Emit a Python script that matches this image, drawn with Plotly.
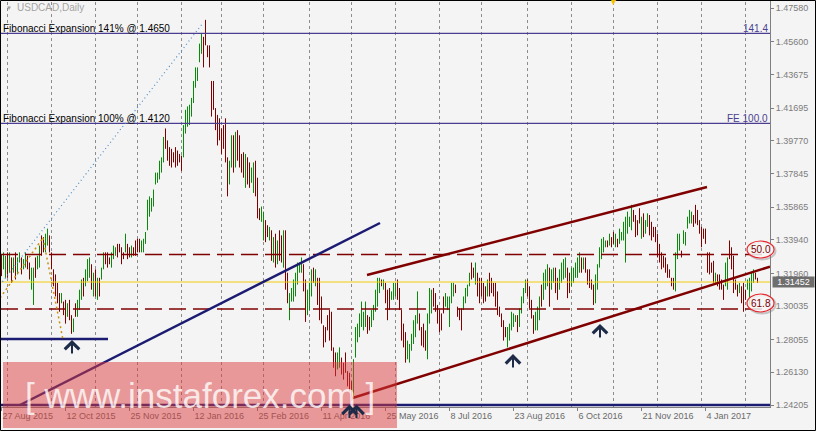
import plotly.graph_objects as go

# ---------------- data ----------------
# bar direction per day: G = up (green), R = down (red)
directions = (
    "RGGRGRGRGG" "RGGRRGGRGG" "RRGGRRRRRR" "GRRGRRGRGG" "GRGGGRGRGR"
    "GGRRRGGGRR" "RRGRRGRRRR" "GGGGGGGGGG" "GGRRRRRRRR" "RGGGGGGGGG"
    "GRRRRRRRRR" "RRRRGGRGRR" "RRGRRGGRRR" "GGRRGRGRGR" "RGRRGGGGGG"
    "GRRGGGRGRR" "RRRRRRRRGG" "RRRRRRGGGG" "GGGRRGGGGG" "RGRRRGGGRR"
    "RRRGGGGGGR" "RRRGGGRRRR" "RRGGGGGRRR" "RGGGGRRGRR" "RRRGRRRRRR"
    "RRRGGGGGRG" "GGGRRRRGGG" "RGGGRGGRRG" "GGGRRGGGGG" "RGRRRRRGGG"
    "GGGRGRRGRG" "GGGGGGRRRR" "GRGGRRRRRR" "RRRRRRRGGG" "RGGGGGRRRR"
    "RRRRRRRGRR" "RRGGRRRRRG" "RRRGGGGRR"
)

highs = [
    1.331, 1.332, 1.330, 1.332, 1.332, 1.329, 1.329, 1.332, 1.329, 1.332,
    1.329, 1.328, 1.332, 1.330, 1.326, 1.323, 1.323, 1.329, 1.330, 1.336,
    1.342, 1.341, 1.343, 1.346, 1.342, 1.332, 1.322, 1.319, 1.314, 1.308,
    1.308, 1.303, 1.304, 1.302, 1.304, 1.295, 1.293, 1.302, 1.304, 1.310,
    1.316, 1.317, 1.322, 1.328, 1.329, 1.325, 1.320, 1.322, 1.317, 1.317,
    1.323, 1.332, 1.332, 1.332, 1.329, 1.332, 1.336, 1.335, 1.337, 1.337,
    1.335, 1.332, 1.343, 1.337, 1.335, 1.336, 1.335, 1.339, 1.340, 1.340,
    1.339, 1.340, 1.344, 1.363, 1.365, 1.364, 1.369, 1.379, 1.379, 1.386,
    1.388, 1.400, 1.405, 1.398, 1.394, 1.393, 1.391, 1.394, 1.392, 1.390,
    1.389, 1.407, 1.416, 1.418, 1.419, 1.423, 1.433, 1.441, 1.441, 1.455,
    1.461, 1.459, 1.469, 1.454, 1.454, 1.433, 1.433, 1.417, 1.413, 1.411,
    1.405, 1.407, 1.411, 1.388, 1.386, 1.401, 1.401, 1.403, 1.404, 1.401,
    1.390, 1.391, 1.390, 1.388, 1.385, 1.382, 1.385, 1.386, 1.376, 1.358,
    1.359, 1.356, 1.351, 1.348, 1.347, 1.345, 1.341, 1.343, 1.339, 1.345,
    1.342, 1.345, 1.345, 1.320, 1.308, 1.311, 1.316, 1.320, 1.326, 1.326,
    1.329, 1.325, 1.316, 1.310, 1.314, 1.322, 1.323, 1.322, 1.317, 1.317,
    1.306, 1.289, 1.288, 1.295, 1.298, 1.297, 1.276, 1.273, 1.273, 1.276,
    1.270, 1.267, 1.273, 1.262, 1.261, 1.256, 1.269, 1.288, 1.290, 1.296,
    1.303, 1.297, 1.303, 1.295, 1.294, 1.298, 1.301, 1.310, 1.317, 1.317,
    1.316, 1.316, 1.314, 1.310, 1.311, 1.309, 1.314, 1.314, 1.316, 1.311,
    1.298, 1.290, 1.285, 1.280, 1.278, 1.284, 1.292, 1.295, 1.309, 1.296,
    1.288, 1.290, 1.286, 1.296, 1.311, 1.310, 1.311, 1.308, 1.301, 1.298,
    1.296, 1.306, 1.308, 1.306, 1.306, 1.314, 1.314, 1.313, 1.300, 1.299,
    1.299, 1.306, 1.311, 1.313, 1.320, 1.326, 1.323, 1.326, 1.320, 1.317,
    1.317, 1.314, 1.312, 1.316, 1.320, 1.317, 1.314, 1.314, 1.309, 1.300,
    1.296, 1.292, 1.288, 1.288, 1.290, 1.297, 1.296, 1.295, 1.295, 1.299,
    1.306, 1.311, 1.316, 1.316, 1.312, 1.304, 1.295, 1.297, 1.300, 1.306,
    1.313, 1.320, 1.322, 1.325, 1.323, 1.322, 1.323, 1.323, 1.317, 1.322,
    1.326, 1.328, 1.329, 1.323, 1.320, 1.323, 1.323, 1.326, 1.329, 1.332,
    1.329, 1.329, 1.329, 1.322, 1.322, 1.316, 1.313, 1.319, 1.325, 1.335,
    1.340, 1.341, 1.339, 1.339, 1.343, 1.341, 1.344, 1.343, 1.340, 1.346,
    1.344, 1.350, 1.353, 1.356, 1.353, 1.360, 1.357, 1.354, 1.351, 1.358,
    1.353, 1.355, 1.351, 1.355, 1.354, 1.350, 1.347, 1.347, 1.343, 1.337,
    1.332, 1.330, 1.329, 1.325, 1.322, 1.317, 1.317, 1.332, 1.343, 1.343,
    1.333, 1.345, 1.344, 1.353, 1.357, 1.356, 1.354, 1.360, 1.357, 1.351,
    1.347, 1.346, 1.346, 1.332, 1.332, 1.326, 1.327, 1.320, 1.319, 1.319,
    1.316, 1.313, 1.326, 1.329, 1.339, 1.335, 1.330, 1.316, 1.313, 1.314,
    1.312, 1.314, 1.310, 1.316, 1.317, 1.320, 1.322, 1.320, 1.317,
]

lows = [
    1.318, 1.322, 1.317, 1.317, 1.320, 1.314, 1.320, 1.316, 1.319, 1.326,
    1.319, 1.322, 1.323, 1.322, 1.316, 1.310, 1.301, 1.317, 1.322, 1.323,
    1.330, 1.332, 1.332, 1.336, 1.332, 1.322, 1.312, 1.306, 1.302, 1.297,
    1.302, 1.295, 1.290, 1.294, 1.292, 1.284, 1.285, 1.294, 1.294, 1.298,
    1.304, 1.306, 1.312, 1.315, 1.317, 1.310, 1.306, 1.306, 1.304, 1.306,
    1.316, 1.322, 1.325, 1.323, 1.325, 1.323, 1.328, 1.330, 1.329, 1.332,
    1.325, 1.328, 1.332, 1.328, 1.329, 1.329, 1.330, 1.330, 1.332, 1.332,
    1.332, 1.332, 1.337, 1.345, 1.353, 1.356, 1.359, 1.372, 1.373, 1.375,
    1.379, 1.385, 1.393, 1.386, 1.383, 1.382, 1.385, 1.382, 1.383, 1.385,
    1.380, 1.388, 1.402, 1.406, 1.407, 1.412, 1.420, 1.429, 1.433, 1.444,
    1.449, 1.441, 1.454, 1.447, 1.441, 1.412, 1.416, 1.404, 1.395, 1.398,
    1.390, 1.393, 1.385, 1.365, 1.372, 1.382, 1.379, 1.382, 1.386, 1.382,
    1.379, 1.376, 1.370, 1.372, 1.370, 1.373, 1.367, 1.365, 1.352, 1.351,
    1.350, 1.339, 1.338, 1.341, 1.339, 1.327, 1.326, 1.323, 1.325, 1.327,
    1.326, 1.323, 1.310, 1.302, 1.292, 1.303, 1.303, 1.306, 1.313, 1.320,
    1.320, 1.309, 1.291, 1.295, 1.298, 1.306, 1.314, 1.312, 1.301, 1.292,
    1.290, 1.276, 1.279, 1.286, 1.280, 1.274, 1.264, 1.259, 1.263, 1.264,
    1.260, 1.257, 1.261, 1.253, 1.250, 1.247, 1.247, 1.270, 1.279, 1.282,
    1.288, 1.286, 1.288, 1.284, 1.286, 1.288, 1.292, 1.297, 1.300, 1.308,
    1.312, 1.310, 1.302, 1.292, 1.298, 1.304, 1.304, 1.306, 1.304, 1.298,
    1.280, 1.276, 1.267, 1.269, 1.267, 1.274, 1.278, 1.282, 1.290, 1.286,
    1.277, 1.276, 1.274, 1.269, 1.290, 1.296, 1.300, 1.297, 1.290, 1.285,
    1.286, 1.296, 1.300, 1.298, 1.288, 1.302, 1.306, 1.308, 1.294, 1.292,
    1.286, 1.298, 1.302, 1.306, 1.312, 1.316, 1.317, 1.313, 1.306, 1.302,
    1.306, 1.302, 1.303, 1.306, 1.306, 1.308, 1.306, 1.300, 1.295, 1.294,
    1.288, 1.280, 1.282, 1.276, 1.280, 1.286, 1.288, 1.291, 1.285, 1.288,
    1.296, 1.302, 1.308, 1.306, 1.299, 1.293, 1.284, 1.286, 1.286, 1.292,
    1.300, 1.304, 1.310, 1.312, 1.300, 1.310, 1.314, 1.308, 1.304, 1.310,
    1.314, 1.316, 1.317, 1.305, 1.308, 1.312, 1.314, 1.317, 1.317, 1.320,
    1.320, 1.322, 1.320, 1.313, 1.311, 1.310, 1.301, 1.302, 1.310, 1.323,
    1.328, 1.332, 1.335, 1.335, 1.336, 1.335, 1.337, 1.335, 1.335, 1.337,
    1.339, 1.339, 1.326, 1.343, 1.347, 1.345, 1.350, 1.341, 1.342, 1.349,
    1.340, 1.341, 1.343, 1.347, 1.342, 1.339, 1.341, 1.338, 1.329, 1.326,
    1.322, 1.323, 1.320, 1.317, 1.317, 1.312, 1.310, 1.309, 1.328, 1.333,
    1.329, 1.337, 1.336, 1.346, 1.349, 1.349, 1.347, 1.349, 1.348, 1.343,
    1.335, 1.340, 1.337, 1.320, 1.319, 1.320, 1.314, 1.314, 1.312, 1.310,
    1.310, 1.304, 1.312, 1.310, 1.328, 1.322, 1.308, 1.310, 1.306, 1.308,
    1.302, 1.297, 1.304, 1.310, 1.301, 1.309, 1.314, 1.316, 1.314,
]

date_labels = ["27 Aug 2015", "12 Oct 2015", "25 Nov 2015", "12 Jan 2016",
               "25 Feb 2016", "11 Apr 2016", "25 May 2016", "8 Jul 2016",
               "23 Aug 2016", "6 Oct 2016", "21 Nov 2016", "4 Jan 2017"]
bars_per_label = 32
month_start_bars = [3, 25, 47, 68, 90, 110, 131, 154, 175, 197, 219, 240,
                    263, 285, 306, 328, 350, 372]

price_ticks = [1.47580, 1.45600, 1.43675, 1.41695, 1.39770, 1.37845, 1.35865,
               1.33940, 1.31960, 1.30035, 1.28055, 1.26130, 1.24205]
current_price = 1.31452

fib141_level, fib100_level = 1.4611, 1.4080
retr50_level, retr618_level = 1.3308, 1.2986
base_level = 1.24205
support_level = 1.2809

# trend lines: (bar index, price) end points
navy_trend = [(9.25, 1.24205), (189.25, 1.3493)]
channel_upper = [(182.75, 1.3187), (352.75, 1.3705)]
channel_lower = [(175.1, 1.2460), (384.25, 1.3236)]
fib_dotted = [(-0.75, 1.3128), (100.75, 1.4672)]
abc_dotted = [(-0.75, 1.3051), (20.75, 1.3405), (30.75, 1.2804)]
support_span = (-0.75, 53.25)
arrow_points = [(35.25, 1.2804), (255.75, 1.2721), (299.25, 1.2898),
                (174.0, 1.2423), (177.5, 1.2423)]

# ---------------- geometry ----------------
W, H = 816, 431
ML, MR, MT, MB = 1, 46, 1, 24
PW, PH = W - ML - MR, H - MT - MB
Y_MAX = 1.48012
Y_MIN = 1.24087
X_MIN, X_MAX = -0.25, 384.25

def pxx(px):
    return (px - ML) / PW

def pxy(py):
    return 1 - (py - MT) / PH

FONT = "Liberation Sans, Arial, sans-serif"
MAROON = "#800000"
GREEN = "#0a8a0a"
NAVY = "#1b1b72"
FIBCOL = "#4b3d8f"

# ---------------- bars ----------------
ux, uy, dx, dy = [], [], [], []
for i, (h, l, d) in enumerate(zip(highs, lows, directions)):
    if d == "G":
        ux += [i, i, None]; uy += [l, h, None]
    else:
        dx += [i, i, None]; dy += [l, h, None]

fig = go.Figure()
fig.add_trace(go.Scatter(x=ux, y=uy, mode="lines",
                         line=dict(color=GREEN, width=1), hoverinfo="skip"))
fig.add_trace(go.Scatter(x=dx, y=dy, mode="lines",
                         line=dict(color=MAROON, width=1), hoverinfo="skip"))

shapes = []
# vertical dashed grid
for b in month_start_bars:
    shapes.append(dict(type="line", xref="x", yref="paper", x0=b, x1=b, y0=0, y1=1,
                       line=dict(color="#8c8c8c", width=1, dash="3px,3px"), layer="below"))

def hline(level, color, width, dash="solid", x0=0, x1=1, xref="paper"):
    shapes.append(dict(type="line", xref=xref, yref="y", x0=x0, x1=x1, y0=level, y1=level,
                       line=dict(color=color, width=width, dash=dash), layer="above"))

hline(fib141_level, FIBCOL, 1.2)
hline(fib100_level, FIBCOL, 1.2)
hline(retr50_level, MAROON, 1.5, "17px,7px")
hline(retr618_level, MAROON, 1.5, "17px,7px")
hline(current_price, "#f2cc0c", 1)
hline(base_level, NAVY, 2.5)
hline(support_level, NAVY, 2.5, x0=support_span[0], x1=support_span[1], xref="x")

def seg(points, color, width, dash="solid"):
    for (a, b) in zip(points[:-1], points[1:]):
        shapes.append(dict(type="line", xref="x", yref="y", x0=a[0], y0=a[1], x1=b[0], y1=b[1],
                           line=dict(color=color, width=width, dash=dash), layer="above"))

seg(fib_dotted, "#4f8fc8", 1.2, "1px,3px")
seg(abc_dotted, "#c8900c", 1.5, "2px,3px")
seg(navy_trend, NAVY, 2.5)
seg(channel_upper, MAROON, 2.5)
seg(channel_lower, MAROON, 2.5)

# labelled ellipses
for (x0, x1, y0, y1) in [(747, 774, 241, 258), (747, 774, 294, 312)]:
    shapes.append(dict(type="circle", xref="paper", yref="paper",
                       x0=pxx(x0 + 1.5), x1=pxx(x1 + 1.5), y0=pxy(y1 + 1.5), y1=pxy(y0 + 1.5),
                       line=dict(color="rgba(110,110,110,0.35)", width=2), layer="above"))
    shapes.append(dict(type="circle", xref="paper", yref="paper",
                       x0=pxx(x0), x1=pxx(x1), y0=pxy(y1), y1=pxy(y0),
                       fillcolor="rgba(246,246,246,0.85)",
                       line=dict(color="#e8262e", width=1.2), layer="above"))

# watermark band
shapes.append(dict(type="rect", xref="paper", yref="paper",
                   x0=pxx(3), x1=pxx(397), y0=pxy(428), y1=pxy(362),
                   fillcolor="rgba(220,60,60,0.5)", line=dict(width=0), layer="above"))
# outer black border
shapes.append(dict(type="rect", xref="paper", yref="paper",
                   x0=pxx(0.5), x1=pxx(815.5), y0=pxy(430.5), y1=pxy(0.5),
                   line=dict(color="#000000", width=1), fillcolor="rgba(0,0,0,0)", layer="above"))

annotations = []
def text(x, y, s, size=10, color="#000", xanchor="left", yanchor="middle", xref="paper", yref="paper", **kw):
    annotations.append(dict(x=x, y=y, xref=xref, yref=yref, text=s, showarrow=False,
                            xanchor=xanchor, yanchor=yanchor,
                            font=dict(family=FONT, size=size, color=color), **kw))

text(pxx(4), pxy(7.5), "▼", size=6, color="#9a9a9a")
text(pxx(15), pxy(7.5), "USDCAD,Daily", size=10, color="#a4a4a4")
text(pxx(1), fib141_level, "Fibonacci Expansion 141% @ 1.4650", yanchor="bottom", yref="y", yshift=-3)
text(pxx(1), fib100_level, "Fibonacci Expansion 100% @ 1.4120", yanchor="bottom", yref="y", yshift=-3)
text(pxx(770), fib141_level, "141.4", color=FIBCOL, xanchor="right", yanchor="bottom", yref="y", yshift=-3)
text(pxx(770), fib100_level, "FE 100.0", color=FIBCOL, xanchor="right", yanchor="bottom", yref="y", yshift=-3)
text(pxx(760.5), pxy(249), "50.0", size=10, color="#7a0000", xanchor="center")
text(pxx(760.5), pxy(303), "61.8", size=10, color="#7a0000", xanchor="center")
text(1, current_price, "1.31452", size=9, color="#ffffff", xanchor="left", yref="y",
     xshift=2, bgcolor="#6e6e6e", width=41, height=10, borderpad=0)
text(pxx(23), pxy(395), "[ www.instaforex.com ]", size=35, color="rgba(255,255,255,0.78)")
text(306, pxy(1.5), "▼", size=9, color="#f2c200", xanchor="center", xref="x")

for (bx, py) in arrow_points:
    annotations.append(dict(x=bx, y=py, xref="x", yref="y", text="", showarrow=True,
                            arrowhead=4, arrowsize=1.4, arrowwidth=2, arrowcolor="#1e2b48",
                            ax=0, ay=15, standoff=0))

fig.update_layout(
    width=W, height=H,
    margin=dict(l=ML, r=MR, t=MT, b=MB),
    paper_bgcolor="#f4f4f4", plot_bgcolor="#f4f4f4",
    showlegend=False,
    shapes=shapes, annotations=annotations,
    xaxis=dict(range=[X_MIN, X_MAX], showgrid=False, zeroline=False,
               tickmode="array",
               tickvals=[k * bars_per_label for k in range(len(date_labels))],
               ticktext=date_labels, ticks="outside", ticklen=3, tickcolor="#808080",
               ticklabelposition="outside right",
               tickfont=dict(family=FONT, size=9, color="#6a6a6a"),
               showline=True, linecolor="#808080", linewidth=1, fixedrange=True),
    yaxis=dict(range=[Y_MIN, Y_MAX], side="right", showgrid=False, zeroline=False,
               tickmode="array", tickvals=price_ticks,
               ticktext=[f"{v:.5f}" for v in price_ticks],
               ticks="outside", ticklen=3, tickcolor="#808080",
               tickfont=dict(family=FONT, size=9, color="#7c7c7c"),
               showline=True, linecolor="#808080", linewidth=1, fixedrange=True),
)

fig.write_html("out.html",
               config={"displayModeBar": False, "staticPlot": True},
               post_script="document.body.style.margin='0';document.body.style.padding='0';"
                           "document.body.style.overflow='hidden';")
